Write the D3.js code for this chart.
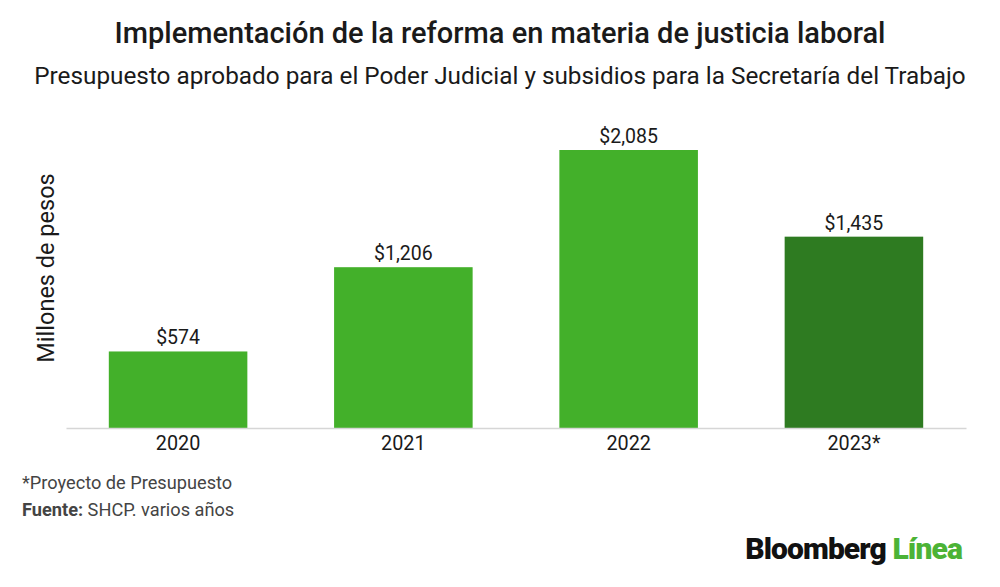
<!DOCTYPE html>
<html>
<head>
<meta charset="utf-8">
<script src="https://cdn.jsdelivr.net/npm/d3@7"></script>
<style>
  body { margin: 0; background: #fff; }
  text { font-family: Roboto, "Noto Sans", sans-serif; }
</style>
</head>
<body>
<script>
(function(){

    var years = ["2020", "2021", "2022", "2023*"];
    var budget = [574, 1206, 2085, 1435];
    var barColors = ["#43b02a", "#43b02a", "#43b02a", "#2e7b21"];

    var width = 1000,
        height = 587;

    var svg = d3.select("body")
        .append("svg")
        .attr("width", width)
        .attr("height", height);

    //titles
    svg.append("text")
        .attr("x", 500)
        .attr("y", 43)
        .attr("text-anchor", "middle")
        .style("font-size", "29px")
        .style("font-weight", "500")
        .style("fill", "#1a1a1a")
        .text("Implementación de la reforma en materia de justicia laboral");

    svg.append("text")
        .attr("x", 500)
        .attr("y", 84)
        .attr("text-anchor", "middle")
        .style("font-size", "24.3px")
        .style("fill", "#1a1a1a")
        .text("Presupuesto aprobado para el Poder Judicial y subsidios para la Secretaría del Trabajo");

    //scales
    var x = d3.scaleBand()
        .domain(years)
        .range([66, 966])
        .paddingInner(0.385)
        .paddingOuter(0.19);

    var y = d3.scaleLinear()
        .domain([0, 2085])
        .range([428, 150]);

    //bars
    svg.selectAll(".bar")
        .data(years)
        .enter()
        .append("rect")
        .attr("class", "bar")
        .attr("x", function(d){ return x(d); })
        .attr("width", x.bandwidth())
        .attr("y", function(d, i){ return y(budget[i]); })
        .attr("height", function(d, i){ return y(0) - y(budget[i]); })
        .style("fill", function(d, i){ return barColors[i]; });

    //value labels
    svg.selectAll(".val")
        .data(years)
        .enter()
        .append("text")
        .attr("class", "val")
        .attr("x", function(d){ return x(d) + x.bandwidth() / 2; })
        .attr("y", function(d, i){ return y(budget[i]) - 7; })
        .attr("text-anchor", "middle")
        .style("font-size", "19.5px")
        .style("fill", "#1a1a1a")
        .text(function(d, i){ return "$" + d3.format(",")(budget[i]); });

    //x axis
    var xAxis = svg.append("g")
        .attr("transform", "translate(0," + y(0) + ")")
        .call(d3.axisBottom(x).tickSize(0).tickPadding(8));

    xAxis.select(".domain")
        .attr("stroke", "#d6d6d6")
        .attr("stroke-width", 1.5);

    xAxis.selectAll("text")
        .style("font-size", "19.8px")
        .style("fill", "#1a1a1a")
        .style("font-family", "Roboto, sans-serif");

    //y label
    svg.append("text")
        .attr("transform", "translate(54,268) rotate(-90)")
        .attr("text-anchor", "middle")
        .style("font-size", "23.5px")
        .style("fill", "#1a1a1a")
        .text("Millones de pesos");

    //notes
    svg.append("text")
        .attr("x", 22)
        .attr("y", 489)
        .style("font-size", "18.2px")
        .style("fill", "#444")
        .text("*Proyecto de Presupuesto");

    var src = svg.append("text")
        .attr("x", 22)
        .attr("y", 516)
        .style("font-size", "18.2px")
        .style("fill", "#444");
    src.append("tspan").style("font-weight", "bold").text("Fuente:");
    src.append("tspan").text(" SHCP. varios años");

    //logo
    var logo = svg.append("text")
        .attr("x", 962)
        .attr("y", 559)
        .attr("text-anchor", "end")
        .style("font-size", "30px")
        .style("font-weight", "900")
        .style("letter-spacing", "-0.9px");
    logo.append("tspan").style("fill", "#111").text("Bloomberg ");
    logo.append("tspan").style("fill", "#4cb336").text("Línea");

})()
</script>
</body>
</html>
